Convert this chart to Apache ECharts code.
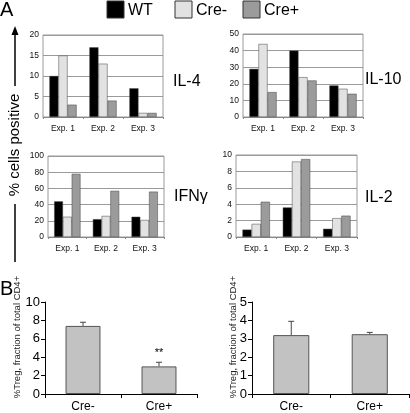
<!DOCTYPE html>
<html><head><meta charset="utf-8">
<script src="https://cdn.jsdelivr.net/npm/echarts@6/dist/echarts.min.js"></script>
<style>html,body{margin:0;padding:0;background:#fff}#c{width:410px;height:413px}</style>
</head><body><div id="c"></div>
<script>
// ---- Data ----
const expCategories = ['Exp. 1', 'Exp. 2', 'Exp. 3'];
const seriesNames = ['WT', 'Cre-', 'Cre+'];
const il4WT = [10, 17, 7];
const il4CreNeg = [15, 13, 1];
const il4CrePos = [3, 4, 1];
const il10WT = [29, 40, 19];
const il10CreNeg = [44, 24, 17];
const il10CrePos = [15, 22, 14];
const ifngWT = [44, 22, 25];
const ifngCreNeg = [25, 26, 21];
const ifngCrePos = [78, 57, 56];
const il2WT = [0.9, 3.6, 1.0];
const il2CreNeg = [1.6, 9.2, 2.3];
const il2CrePos = [4.3, 9.5, 2.6];
const panelTitles = ['IL-4', 'IL-10', 'IFN\u03b3', 'IL-2'];
const yMaxA = [20, 50, 100, 10];
const yStepA = [5, 10, 20, 2];

const bCategories = ['Cre-', 'Cre+'];
const tregLeft = [7.4, 3.0];
const tregLeftErr = [0.4, 0.45];
const tregLeftAnnot = ['', '**'];
const tregRight = [3.2, 3.25];
const tregRightErr = [0.75, 0.1];
const tregRightAnnot = ['', ''];
const yMaxB = [10, 5];
const yStepB = [2, 1];
const bAxisName = '%Treg, fraction of total CD4+';

// ---- Layout ----
const colors = ['#000000', '#e2e2e2', '#9b9b9b'];
const gridsA = [
  {left: 43, top: 35, width: 120, height: 82},
  {left: 243, top: 34, width: 120, height: 83},
  {left: 48, top: 156, width: 116, height: 81},
  {left: 236, top: 155, width: 121, height: 82}
];
const gridsB = [
  {left: 45, top: 302, width: 152, height: 92},
  {left: 252, top: 302, width: 157, height: 92}
];
const bNameX = [17, 233];
const dataA = [
  [il4WT, il4CreNeg, il4CrePos],
  [il10WT, il10CreNeg, il10CrePos],
  [ifngWT, ifngCreNeg, ifngCrePos],
  [il2WT, il2CreNeg, il2CrePos]
];
const titlePos = [[173, 82], [365, 80], [174, 197], [365, 198]];

const grid = [], xAxis = [], yAxis = [], series = [];
gridsA.forEach((g, i) => {
  grid.push(Object.assign({show: true, borderColor: '#9a9a9a', borderWidth: 1, backgroundColor: '#fff'}, g));
  xAxis.push({type: 'category', gridIndex: i, data: expCategories,
    axisLine: {lineStyle: {color: '#888'}}, axisTick: {show: true, length: 2, lineStyle: {color: '#888'}},
    axisLabel: {fontSize: 8.5, color: '#111', fontFamily: 'Liberation Sans', margin: 7}});
  yAxis.push({type: 'value', gridIndex: i, min: 0, max: yMaxA[i], interval: yStepA[i],
    axisLine: {show: false}, axisTick: {show: false},
    splitLine: {lineStyle: {color: '#9a9a9a', width: 1}},
    axisLabel: {fontSize: 8.5, color: '#111', fontFamily: 'Liberation Sans', margin: 4}});
  dataA[i].forEach((arr, k) => {
    series.push({type: 'bar', name: seriesNames[k], xAxisIndex: i, yAxisIndex: i, data: arr,
      barGap: '0%', barCategoryGap: '32%',
      itemStyle: {color: colors[k], borderColor: '#444', borderWidth: 0.5},
      emphasis: {disabled: true}, animation: false});
  });
});

const bVals = [tregLeft, tregRight], bErr = [tregLeftErr, tregRightErr], bAnn = [tregLeftAnnot, tregRightAnnot];
gridsB.forEach((g, j) => {
  const idx = 4 + j;
  grid.push(Object.assign({}, g));
  xAxis.push({type: 'category', gridIndex: idx, data: bCategories,
    axisLine: {lineStyle: {color: '#000', width: 1}},
    axisTick: {show: true, length: 4, lineStyle: {color: '#000'}},
    axisLabel: {fontSize: 12, color: '#000', fontFamily: 'Liberation Sans', margin: 7}});
  yAxis.push({type: 'value', gridIndex: idx, min: 0, max: yMaxB[j], interval: yStepB[j],
    axisLine: {show: true, lineStyle: {color: '#000', width: 1}},
    axisTick: {show: true, length: 4, lineStyle: {color: '#000'}},
    splitLine: {show: false},
    axisLabel: {fontSize: 13, color: '#000', fontFamily: 'Liberation Sans', margin: 5}});
  series.push({type: 'bar', xAxisIndex: idx, yAxisIndex: idx, data: bVals[j], barWidth: '46%',
    itemStyle: {color: '#c2c2c2', borderColor: '#555', borderWidth: 1},
    emphasis: {disabled: true}, animation: false});
  const vals = bVals[j], errs = bErr[j], anns = bAnn[j];
  series.push({type: 'custom', xAxisIndex: idx, yAxisIndex: idx, animation: false,
    data: vals.map((v, n) => [n, v, v + errs[n]]),
    renderItem: function (params, api) {
      const base = api.coord([api.value(0), api.value(1)]);
      const top = api.coord([api.value(0), api.value(2)]);
      const children = [
        {type: 'line', shape: {x1: base[0], y1: base[1], x2: top[0], y2: top[1]}, style: {stroke: '#444', lineWidth: 1}},
        {type: 'line', shape: {x1: top[0] - 3, y1: top[1], x2: top[0] + 3, y2: top[1]}, style: {stroke: '#444', lineWidth: 1}}
      ];
      const a = anns[params.dataIndex];
      if (a) children.push({type: 'text', x: top[0], y: top[1] - 4,
        style: {text: a, fill: '#000', fontSize: 11, fontFamily: 'Liberation Sans', align: 'center', verticalAlign: 'bottom'}});
      return {type: 'group', children: children};
    }});
});

const graphic = [];
graphic.push({type: 'text', left: 0, top: 0, style: {text: 'A', fontSize: 20, fill: '#000', fontFamily: 'Liberation Sans'}});
graphic.push({type: 'text', left: 0, top: 279, style: {text: 'B', fontSize: 20, fill: '#000', fontFamily: 'Liberation Sans'}});
// legend
const legX = [107, 175, 243];
seriesNames.forEach((n, k) => {
  graphic.push({type: 'rect', shape: {x: legX[k], y: 1, width: 17, height: 17}, style: {fill: colors[k], stroke: '#333', lineWidth: 1}});
  graphic.push({type: 'text', x: legX[k] + 21, y: 11, style: {text: n, fontSize: 16, fill: '#000', fontFamily: 'Liberation Sans', verticalAlign: 'middle'}});
});
// panel titles
panelTitles.forEach((t, i) => {
  graphic.push({type: 'text', x: titlePos[i][0], y: titlePos[i][1], style: {text: t, fontSize: 16, fill: '#000', fontFamily: 'Liberation Sans', verticalAlign: 'middle'}});
});
// B y-axis names
bNameX.forEach(x => {
  graphic.push({type: 'text', x: x, y: 337, rotation: Math.PI / 2,
    style: {text: bAxisName, fontSize: 9.5, fill: '#222', fontFamily: 'Liberation Sans', align: 'center', verticalAlign: 'middle'}});
});
// y arrow with label
graphic.push({type: 'line', shape: {x1: 15, y1: 262, x2: 15, y2: 204}, style: {stroke: '#000', lineWidth: 1.5}});
graphic.push({type: 'line', shape: {x1: 15, y1: 86, x2: 15, y2: 32}, style: {stroke: '#000', lineWidth: 1.5}});
graphic.push({type: 'polygon', shape: {points: [[15, 26], [11.5, 35], [18.5, 35]]}, style: {fill: '#000'}});
graphic.push({type: 'text', x: 15, y: 145, rotation: Math.PI / 2,
  style: {text: '% cells positive', fontSize: 15, fill: '#000', fontFamily: 'Liberation Sans', align: 'center', verticalAlign: 'middle'}});

const chart = echarts.init(document.getElementById('c'), null, {renderer: 'canvas'});
chart.setOption({animation: false, grid, xAxis, yAxis, series, graphic});
</script></body></html>
